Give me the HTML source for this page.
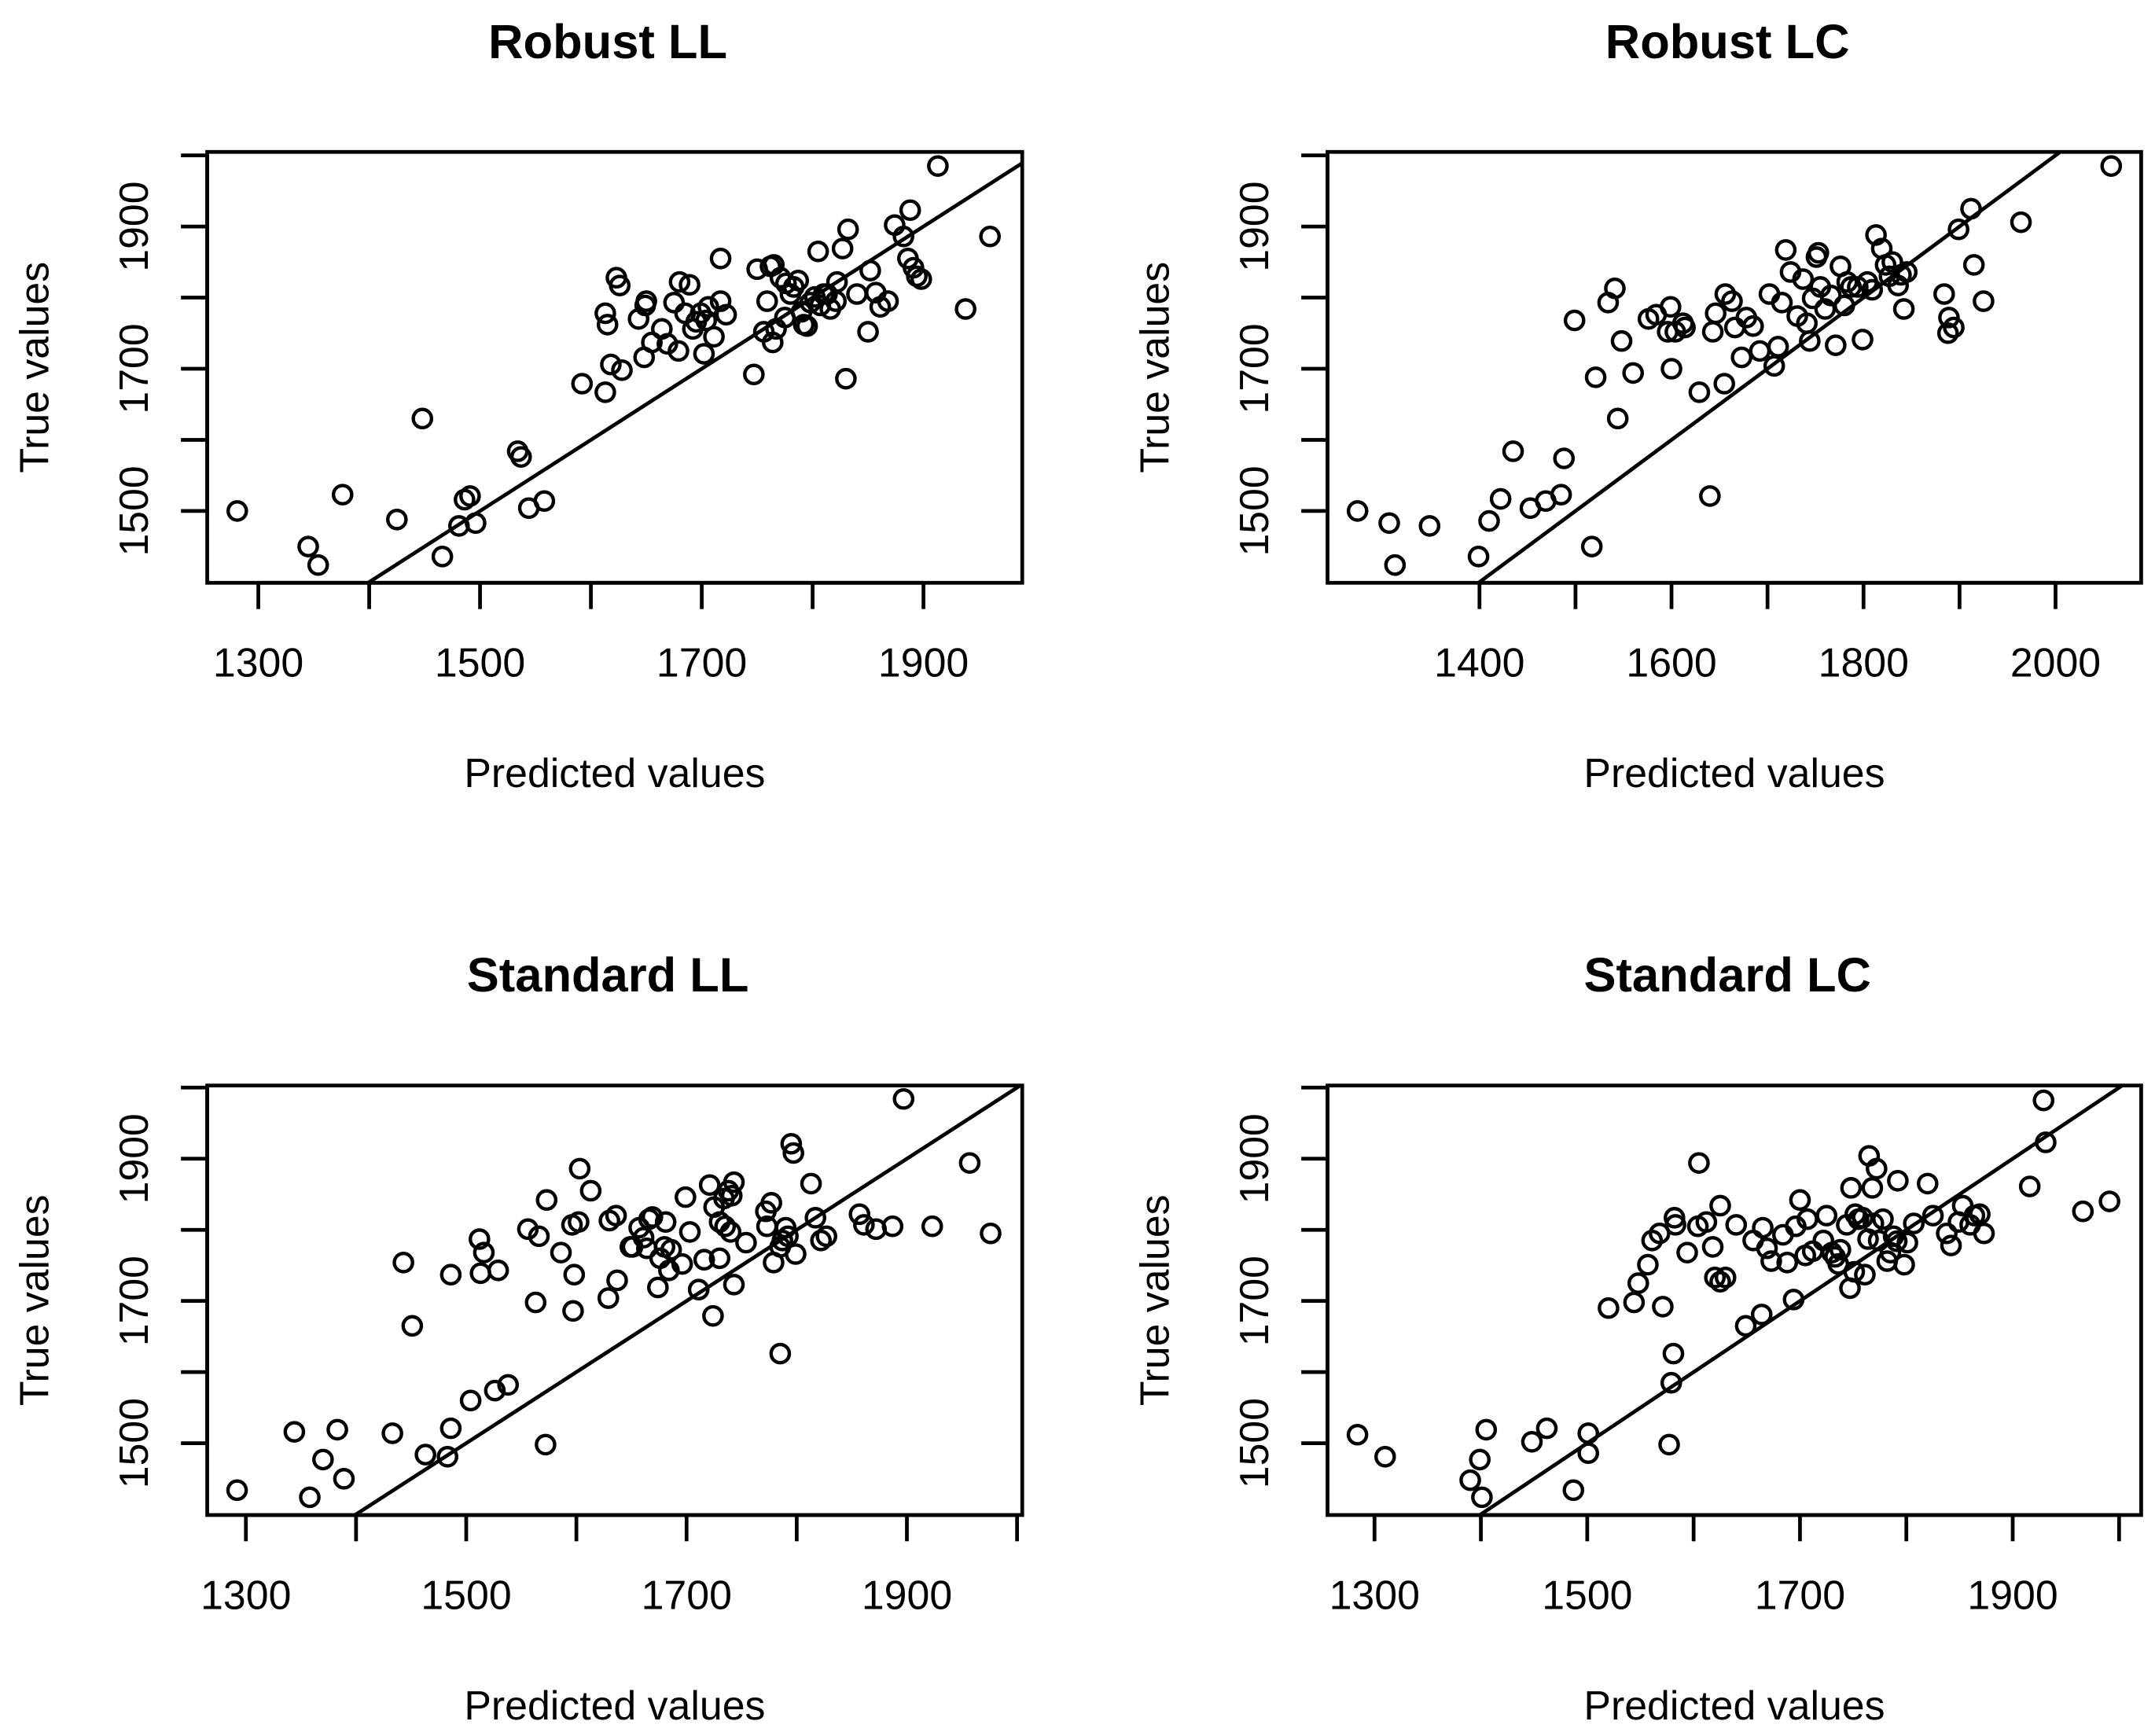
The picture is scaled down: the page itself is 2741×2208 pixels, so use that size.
<!DOCTYPE html>
<html><head><meta charset="utf-8"><style>
html,body{margin:0;padding:0;background:#fff;}
svg{display:block;font-family:"Liberation Sans",sans-serif;}
</style></head><body>
<svg id="chart" width="2741" height="2208" viewBox="0 0 1560 1257" preserveAspectRatio="none" xmlns="http://www.w3.org/2000/svg"></svg>
<script>
const titles = ["Robust LL", "Robust LC", "Standard LL", "Standard LC"];
const p1x = [1281,1345,1354,1376,1425,1448,1466,1481,1486,1491,1496,1534,1537,1544,1558,1592,1613,1613,1618,1615,1623,1626,1628,1643,1648,1649,1650,1655,1664,1669,1675,1679,1680,1685,1689,1692,1695,1699,1702,1704,1706,1711,1717,1717,1722,1747,1750,1756,1759,1762,1765,1764,1767,1771,1775,1776,1780,1783,1787,1790,1792,1795,1798,1802,1805,1807,1810,1813,1816,1821,1822,1827,1830,1832,1840,1850,1852,1857,1861,1868,1874,1882,1886,1888,1891,1894,1898,1913,1938,1960];
const p1y = [1500,1450,1424,1523,1488,1630,1436,1479,1516,1521,1483,1584,1576,1504,1514,1679,1667,1778,1706,1762,1828,1817,1698,1770,1716,1789,1795,1737,1756,1735,1793,1725,1822,1778,1818,1756,1766,1778,1721,1768,1787,1745,1855,1795,1776,1692,1840,1752,1795,1844,1846,1737,1756,1828,1772,1820,1805,1815,1824,1780,1762,1760,1793,1801,1865,1789,1805,1805,1784,1795,1822,1869,1686,1896,1805,1752,1838,1807,1787,1795,1902,1886,1855,1923,1842,1830,1826,1985,1784,1886];
const p2x = [1273,1306,1312,1348,1399,1410,1422,1435,1453,1469,1485,1488,1499,1517,1521,1534,1541,1544,1548,1560,1576,1584,1596,1599,1600,1604,1612,1614,1629,1640,1643,1646,1655,1656,1663,1666,1673,1678,1685,1692,1702,1707,1711,1715,1719,1724,1731,1737,1741,1744,1747,1751,1753,1755,1760,1766,1771,1776,1780,1783,1787,1794,1799,1804,1809,1813,1819,1823,1827,1830,1836,1839,1842,1845,1884,1888,1889,1894,1899,1912,1915,1925,1964,2058];
const p2y = [1500,1483,1424,1479,1436,1486,1517,1584,1504,1514,1523,1574,1768,1450,1688,1793,1813,1630,1739,1694,1770,1776,1752,1787,1700,1752,1764,1758,1667,1521,1752,1778,1679,1805,1795,1758,1716,1772,1760,1725,1805,1704,1731,1793,1867,1836,1774,1826,1764,1739,1799,1857,1863,1815,1784,1803,1733,1844,1789,1822,1815,1815,1741,1822,1811,1888,1869,1846,1830,1850,1817,1832,1784,1836,1805,1750,1772,1758,1896,1925,1846,1795,1906,1985];
const p3x = [1292,1344,1358,1370,1383,1389,1433,1443,1451,1463,1483,1486,1486,1504,1512,1516,1513,1526,1529,1538,1556,1563,1566,1572,1573,1586,1596,1597,1598,1602,1603,1613,1629,1630,1636,1637,1649,1651,1657,1661,1664,1666,1669,1674,1676,1680,1681,1684,1686,1696,1699,1703,1711,1716,1721,1724,1725,1730,1730,1734,1735,1738,1740,1743,1743,1741,1754,1772,1773,1777,1779,1785,1785,1787,1790,1792,1795,1797,1799,1813,1817,1822,1827,1857,1861,1872,1887,1897,1923,1957,1976];
const p3y = [1434,1516,1424,1477,1519,1450,1514,1754,1665,1484,1481,1737,1521,1560,1787,1768,1739,1574,1743,1582,1801,1698,1791,1498,1842,1768,1807,1686,1737,1811,1886,1855,1704,1813,1820,1729,1776,1776,1803,1789,1774,1815,1818,1719,1760,1776,1811,1743,1772,1752,1846,1797,1716,1758,1863,1679,1832,1760,1811,1844,1805,1855,1797,1723,1867,1848,1782,1826,1805,1838,1754,1776,1626,1785,1803,1791,1921,1908,1766,1865,1817,1785,1791,1822,1807,1801,1805,1984,1805,1894,1795];
const p4x = [1284,1310,1390,1399,1401,1405,1448,1462,1487,1501,1501,1520,1544,1548,1557,1561,1568,1571,1577,1579,1581,1582,1583,1594,1604,1605,1612,1618,1620,1625,1625,1630,1640,1649,1656,1664,1665,1669,1673,1684,1688,1694,1696,1700,1705,1707,1712,1722,1725,1730,1733,1736,1738,1744,1747,1748,1751,1752,1755,1759,1761,1764,1765,1768,1769,1772,1774,1778,1782,1785,1788,1791,1792,1798,1801,1807,1820,1825,1838,1842,1849,1853,1860,1864,1869,1873,1916,1929,1931,1966,1991];
const p4y = [1512,1481,1448,1477,1424,1519,1502,1521,1434,1486,1514,1690,1698,1725,1751,1785,1795,1692,1498,1585,1626,1817,1807,1768,1805,1894,1811,1776,1733,1834,1727,1733,1807,1665,1785,1681,1803,1774,1756,1793,1754,1702,1805,1842,1764,1815,1770,1785,1820,1768,1762,1752,1772,1807,1718,1859,1741,1822,1815,1817,1737,1787,1904,1859,1809,1886,1785,1815,1756,1768,1791,1784,1869,1751,1782,1809,1865,1820,1795,1778,1811,1834,1807,1820,1822,1795,1861,1982,1923,1826,1840];
const xTicks1 = [1300,1400,1500,1600,1700,1800,1900];
const xLabels1 = [1300,1500,1700,1900];
const xTicks2 = [1400,1500,1600,1700,1800,1900,2000];
const xLabels2 = [1400,1600,1800,2000];
const xTicks3 = [1300,1400,1500,1600,1700,1800,1900,2000];
const xLabels3 = [1300,1500,1700,1900];
const yTicks = [1500,1600,1700,1800,1900,2000];
const yLabels = [1500,1700,1900];

const NS = "http://www.w3.org/2000/svg";
const svg = document.getElementById("chart");
function mk(tag, attrs, parent){ const e=document.createElementNS(NS,tag); for(const k in attrs) e.setAttribute(k,attrs[k]); (parent||svg).appendChild(e); return e; }

const panels = [
  {t:0, xs:p1x, ys:p1y, xt:xTicks1, xl:xLabels1, L:150,R:740,T:110,B:422, x0:187, xk:0.8025, y0:370},
  {t:1, xs:p2x, ys:p2y, xt:xTicks2, xl:xLabels2, L:961,R:1550,T:110,B:422, x0:1071-100*0.695, xk:0.695, y0:370},
  {t:2, xs:p3x, ys:p3y, xt:xTicks3, xl:xLabels3, L:150,R:740,T:786,B:1097, x0:178, xk:0.7975, y0:1045},
  {t:3, xs:p4x, ys:p4y, xt:xTicks3, xl:xLabels3, L:961,R:1550,T:786,B:1097, x0:995, xk:0.77, y0:1045}
];
const yk = 0.515;
const SW = 2.7;

panels.forEach((p, i) => {
  const g = mk("g", {});
  
  
  const X = v => p.x0 + (v - 1300) * p.xk;
  const Y = v => p.y0 - (v - 1500) * yk;
  const cx = (p.L + p.R) / 2, cy = (p.T + p.B) / 2;

  const title = mk("text", {x:cx - 5, y:p.T - 68, "text-anchor":"middle", "font-size":"35", "font-weight":"bold"}, g);
  title.textContent = titles[p.t];
  
  

  const xl = mk("text", {x:cx, y:p.B + 148, "text-anchor":"middle", "font-size":"29.5"}, g);
  xl.textContent = "Predicted values";
  
  

  const yl = mk("text", {x:0, y:0, "text-anchor":"middle", "font-size":"29.5", transform:`translate(${p.L-115},${cy}) rotate(-90)`}, g);
  yl.textContent = "True values";
  
  

  const clip = mk("clipPath", {id:"clip"+i}, g);
  mk("rect", {x:p.L, y:p.T, width:p.R-p.L, height:p.B-p.T}, clip);

  const xa = mk("g", {}, g);
  
  
  mk("line", {x1:X(p.xt[0]), x2:X(p.xt[p.xt.length-1]), y1:p.B, y2:p.B, stroke:"#000","stroke-width":SW}, xa);
  p.xt.forEach(v => mk("line", {x1:X(v), x2:X(v), y1:p.B, y2:p.B+19, stroke:"#000","stroke-width":SW}, xa));
  p.xl.forEach(v => {
    const t = mk("text", {x:X(v), y:p.B+68, "text-anchor":"middle","font-size":"29.5"}, xa);
    t.textContent = v;
    
    
  });
  const ya = mk("g", {}, g);
  
  
  mk("line", {x1:p.L, x2:p.L, y1:Y(yTicks[0]), y2:Y(yTicks[yTicks.length-1]), stroke:"#000","stroke-width":SW}, ya);
  yTicks.forEach(v => mk("line", {x1:p.L-19, x2:p.L, y1:Y(v), y2:Y(v), stroke:"#000","stroke-width":SW}, ya));
  yLabels.forEach(v => {
    const t = mk("text", {x:0, y:0, "text-anchor":"middle","font-size":"29.5", transform:`translate(${p.L-43},${Y(v)}) rotate(-90)`}, ya);
    t.textContent = v;
    
    
  });

  const box = mk("rect", {x:p.L, y:p.T, width:p.R-p.L, height:p.B-p.T, fill:"none", stroke:"#000","stroke-width":SW}, g);
  
  

  const ref = mk("line", {x1:X(1200), y1:Y(1200), x2:X(2200), y2:Y(2200), stroke:"#000","stroke-width":SW,"clip-path":`url(#clip${i})`}, g);
  
  

  const pts = mk("g", {}, g);
  
  
  p.xs.forEach((v, j) => {
    const c = mk("circle", {cx:X(v), cy:Y(p.ys[j]), r:6.6, fill:"none", stroke:"#000","stroke-width":2.5}, pts);
    
    
  });
});
</script>
</body></html>
